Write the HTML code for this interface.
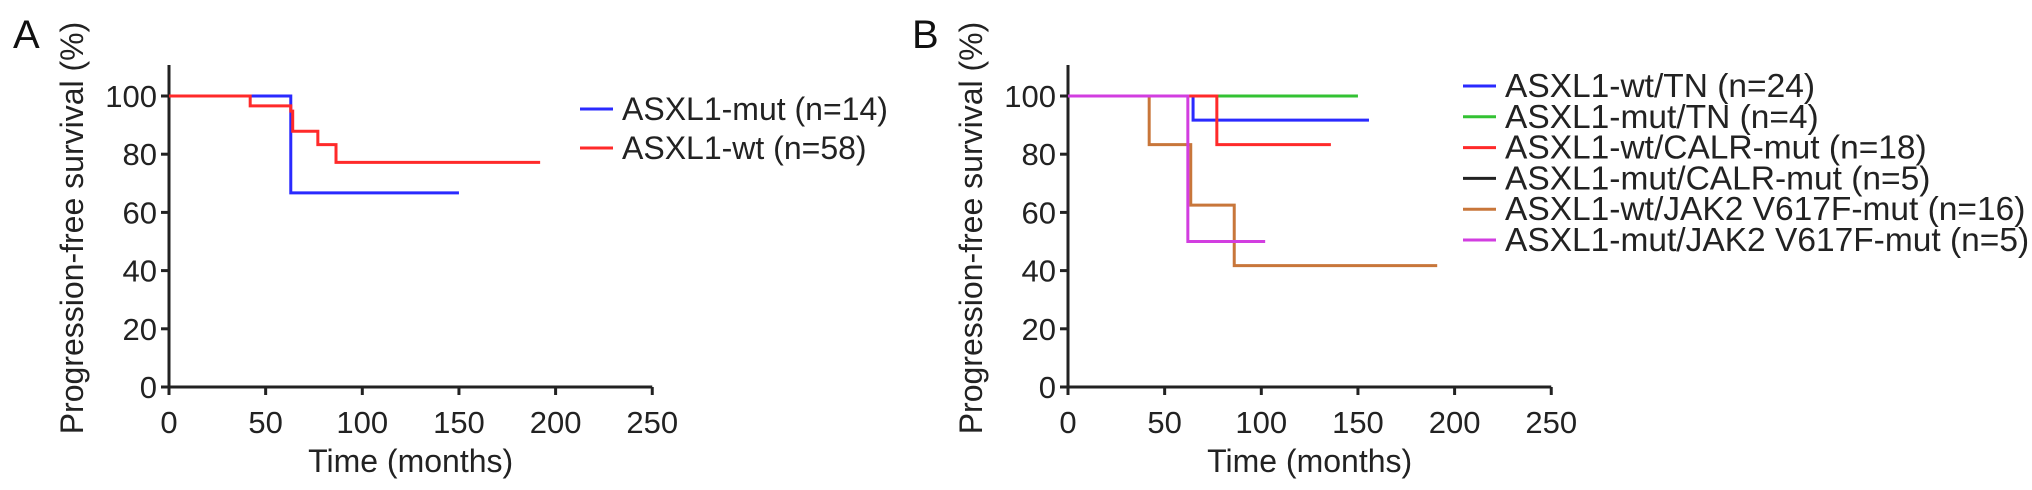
<!DOCTYPE html>
<html><head><meta charset="utf-8"><style>
body{margin:0;background:#fff;}
svg{display:block;font-family:"Liberation Sans",Arial,sans-serif;}
</style></head><body>
<svg id="chart" width="2032" height="490" viewBox="0 0 2032 490"></svg>
<script>
// Panel A data
const aNames = ["ASXL1-mut (n=14)", "ASXL1-wt (n=58)"];
const aTimes = [[0, 63, 150], [0, 42, 63, 64, 77, 86.4, 192]];
const aSurv = [[100, 66.7, 66.7], [100, 96.6, 94.8, 87.9, 83.3, 77.2, 77.2]];
// Panel B data
const bNames = ["ASXL1-wt/TN (n=24)", "ASXL1-mut/TN (n=4)", "ASXL1-wt/CALR-mut (n=18)", "ASXL1-mut/CALR-mut (n=5)", "ASXL1-wt/JAK2 V617F-mut (n=16)", "ASXL1-mut/JAK2 V617F-mut (n=5)"];
const bTimes = [[0, 64.7, 155.7], [0, 150], [0, 77, 136], [], [0, 42, 63.5, 86, 191], [0, 62, 102]];
const bSurv = [[100, 91.7, 91.7], [100, 100], [100, 83.3, 83.3], [], [100, 83.3, 62.5, 41.7, 41.7], [100, 50, 50]];
const xTicks = [0, 50, 100, 150, 200, 250];
const yTicks = [0, 20, 40, 60, 80, 100];

const NS = "http://www.w3.org/2000/svg";
const svg = document.getElementById("chart");
function mk(tag, attrs, parent, text) {
  const e = document.createElementNS(NS, tag);
  for (const k in attrs) e.setAttribute(k, attrs[k]);
  if (text !== undefined) e.textContent = text;
  (parent || svg).appendChild(e);
  return e;
}
const aColors = ["#2a2aff", "#ff2a2a"];
const bColors = ["#2a2aff", "#33c233", "#ff2a2a", "#222222", "#c8763a", "#d23ee0"];

function panel(ox, letter, names, times, surv, colors, legX, legY0, legStep, key, legFont) {
  const g = mk("g", {});
  
  
  const x = t => ox + t * 1.933;
  const y = v => 387 - v * 2.91;
  const L = mk("text", {x: ox - 156, y: 48, "font-size": 40, fill: "#111"}, g, letter);
  
  
  const yt = mk("text", {transform: `translate(${ox - 86},228) rotate(-90)`, "text-anchor": "middle", "font-size": 32, fill: "#222"}, g, "Progression-free survival (%)");
  
  
  const xt = mk("text", {x: x(125), y: 472, "text-anchor": "middle", "font-size": 32, fill: "#222"}, g, "Time (months)");
  
  
  const ya = mk("line", {x1: ox, y1: 65, x2: ox, y2: y(0) + 8, stroke: "#222", "stroke-width": 3}, g);
  
  
  const xa = mk("line", {x1: ox - 8, y1: y(0), x2: x(250), y2: y(0), stroke: "#222", "stroke-width": 3}, g);
  
  
  yTicks.forEach(v => {
    const t = mk("line", {x1: ox - 8, y1: y(v), x2: ox, y2: y(v), stroke: "#222", "stroke-width": 3}, g);
    
    
    const l = mk("text", {x: ox - 12, y: y(v) + 11, "text-anchor": "end", "font-size": 31, fill: "#222"}, g, v);
    
    
  });
  xTicks.forEach(v => {
    const t = mk("line", {x1: x(v), y1: y(0), x2: x(v), y2: y(0) + 8, stroke: "#222", "stroke-width": 3}, g);
    
    
    const l = mk("text", {x: x(v), y: 433, "text-anchor": "middle", "font-size": 31, fill: "#222"}, g, v);
    
    
  });
  times.forEach((ts, i) => {
    if (!ts.length) return;
    let d = `M${x(ts[0])},${y(surv[i][0])}`;
    for (let j = 1; j < ts.length; j++) {
      d += ` H${x(ts[j])} V${y(surv[i][j])}`;
    }
    const p = mk("path", {d: d, fill: "none", stroke: colors[i], "stroke-width": 3}, g);
    
    
  });
  names.forEach((n, i) => {
    const cy = legY0 + i * legStep;
    const ln = mk("line", {x1: legX, y1: cy, x2: legX + 33, y2: cy, stroke: colors[i], "stroke-width": 3}, g);
    
    
    const tx = mk("text", {x: legX + 42, y: cy + 11, "font-size": legFont, fill: "#222"}, g, n);
    
    
  });
}
panel(169, "A", aNames, aTimes, aSurv, aColors, 580, 109, 39, "a", 32);
panel(1068, "B", bNames, bTimes, bSurv, bColors, 1463, 86, 30.8, "b", 33.5);
</script>
</body></html>
